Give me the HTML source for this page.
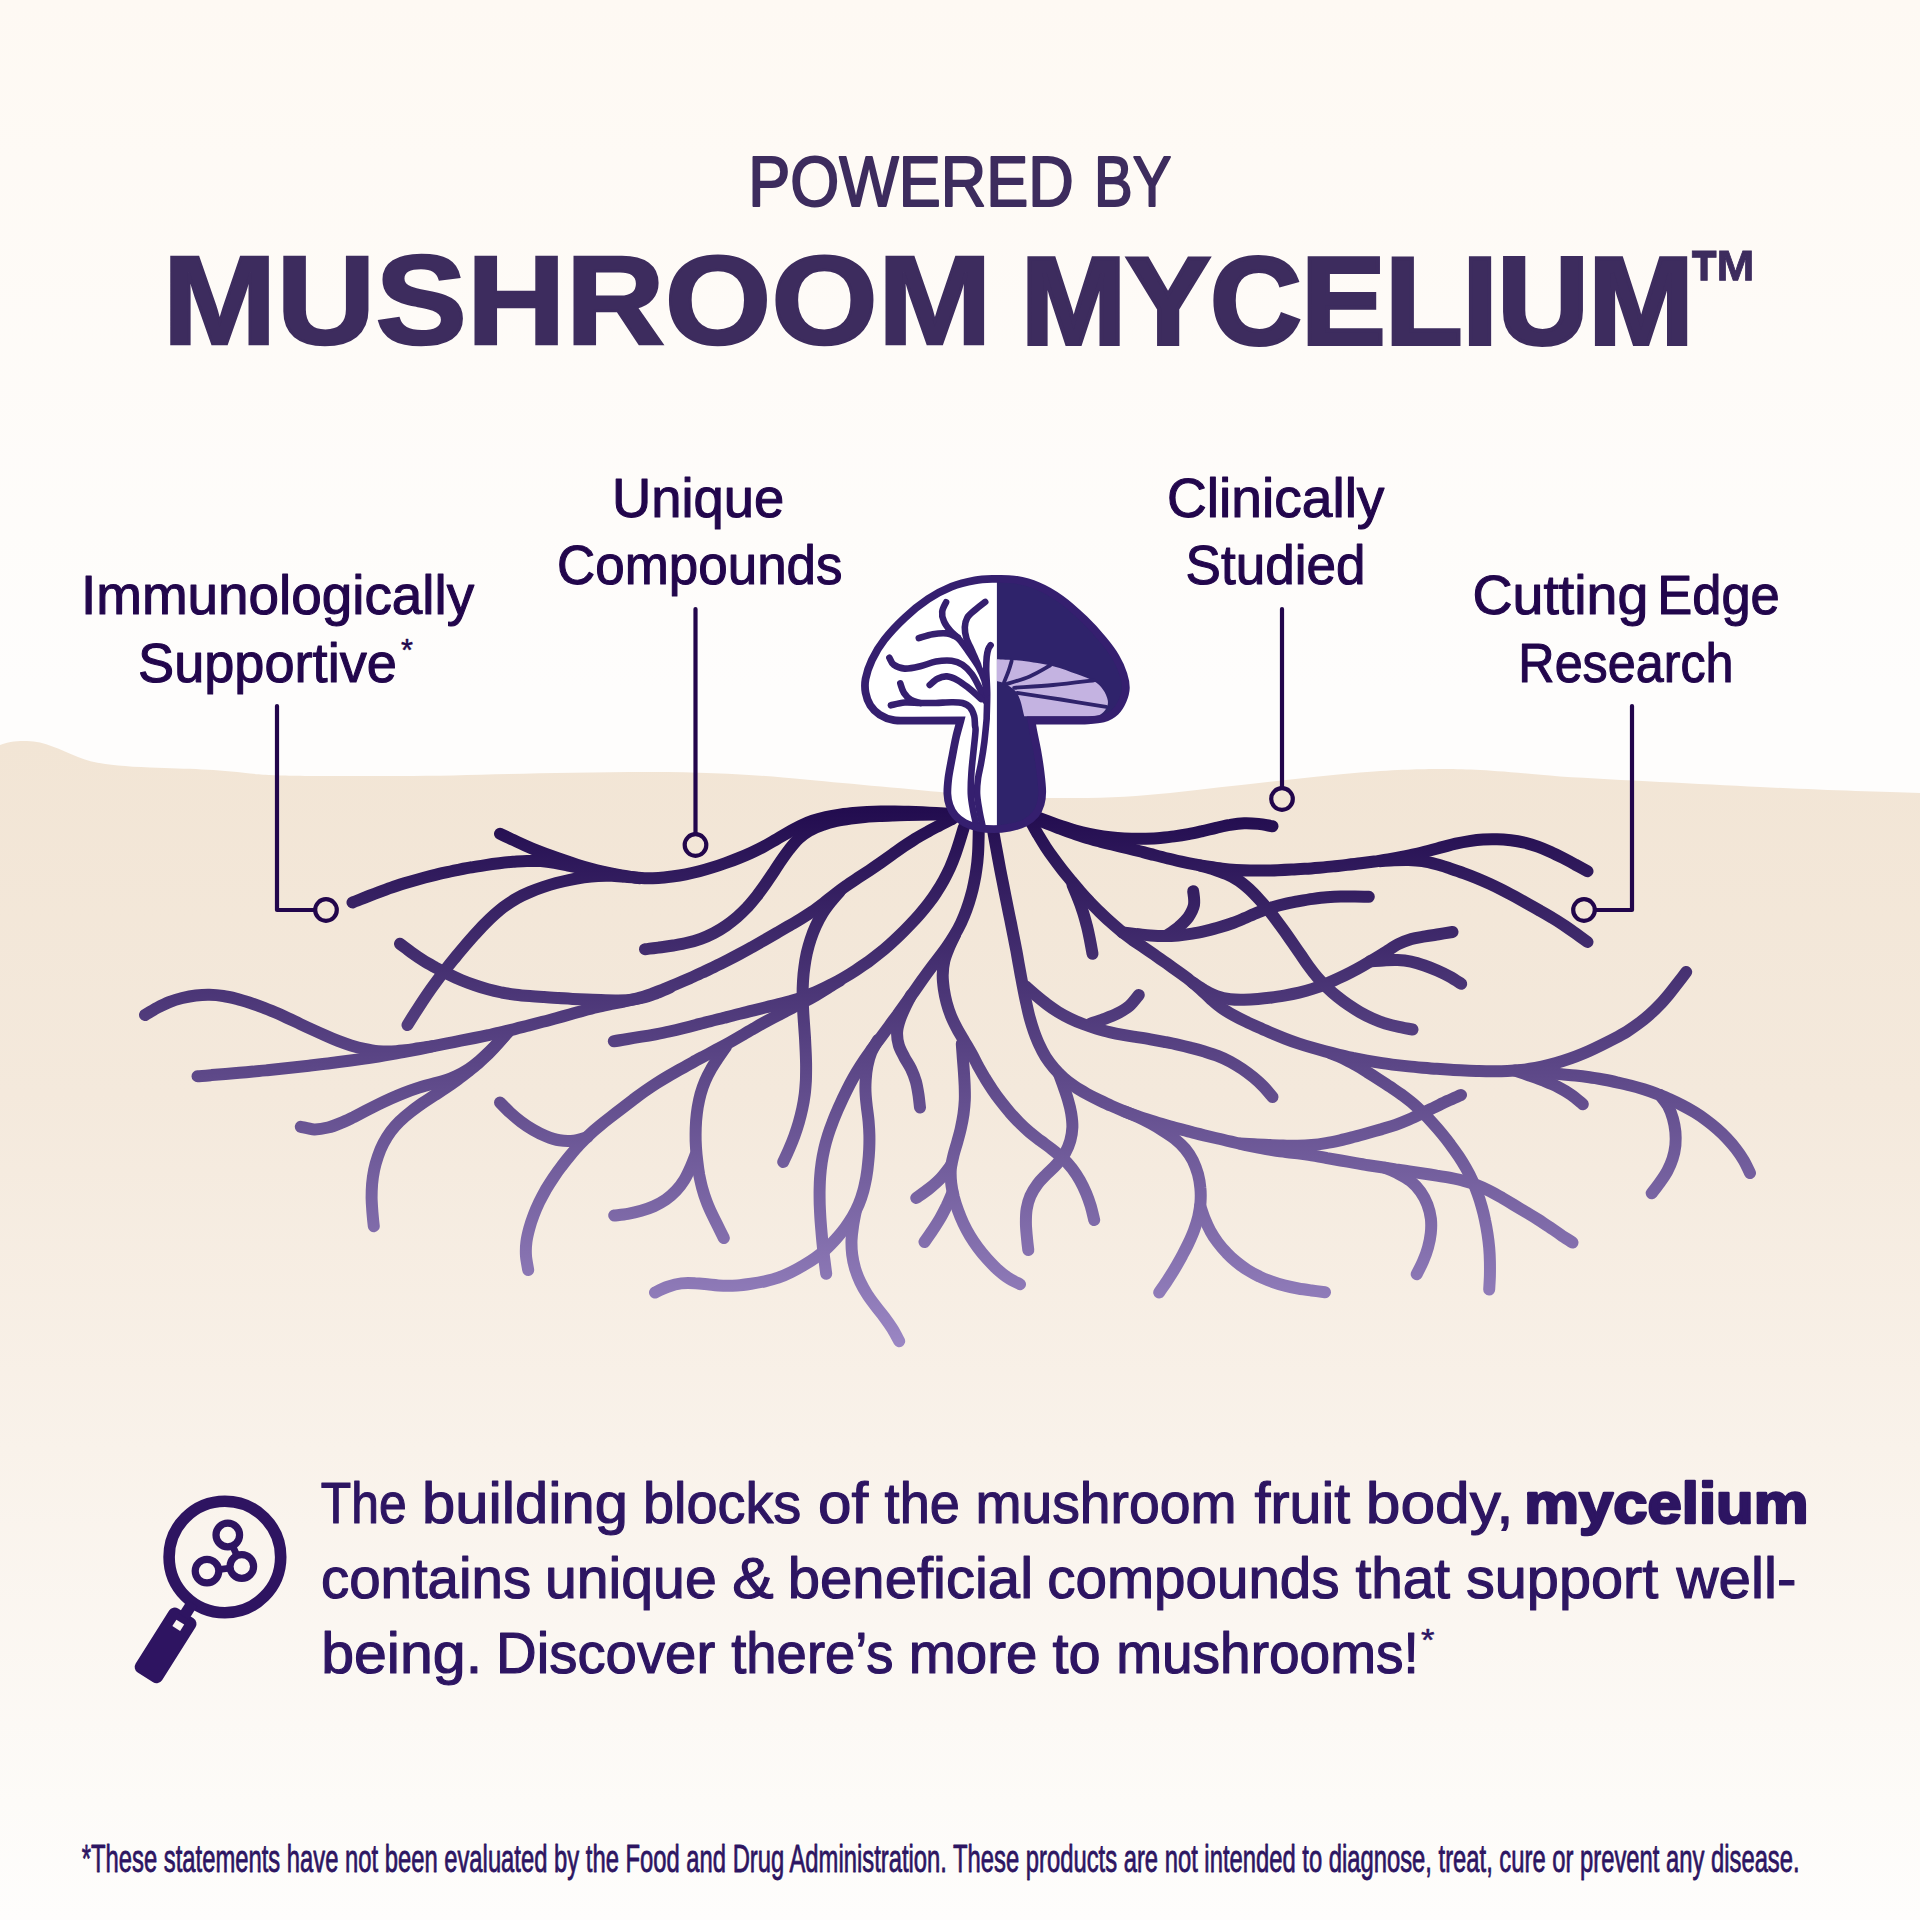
<!DOCTYPE html>
<html lang="en">
<head>
<meta charset="utf-8">
<title>Powered by Mushroom Mycelium</title>
<style>
html,body{margin:0;padding:0;width:1920px;height:1920px;overflow:hidden;background:#fefcf9;}
svg{display:block;position:absolute;left:0;top:0;}
text{font-family:"Liberation Sans",sans-serif;}
</style>
</head>
<body>
<svg width="1920" height="1920" viewBox="0 0 1920 1920">
<defs>
<linearGradient id="bg" x1="0" y1="0" x2="0" y2="1920" gradientUnits="userSpaceOnUse">
<stop offset="0" stop-color="#fef9f3"/>
<stop offset="0.36" stop-color="#fefdfc"/>
<stop offset="1" stop-color="#fefdfc"/>
</linearGradient>
<linearGradient id="soil" x1="0" y1="740" x2="0" y2="1920" gradientUnits="userSpaceOnUse">
<stop offset="0" stop-color="#f2e5d5"/>
<stop offset="0.3" stop-color="#f4e9dc"/>
<stop offset="0.6" stop-color="#f9f2ea"/>
<stop offset="0.9" stop-color="#fdfbf8"/>
<stop offset="1" stop-color="#fefdfc"/>
</linearGradient>
<linearGradient id="root" x1="0" y1="800" x2="0" y2="1345" gradientUnits="userSpaceOnUse">
<stop offset="0" stop-color="#200a4d"/>
<stop offset="1" stop-color="#9a86c3"/>
</linearGradient>
</defs>
<rect width="1920" height="1920" fill="url(#bg)"/>
<path id="soilshape" fill="url(#soil)" d="M0,745 C10,741 18,741 27,741 C45,741 60,750 78,757 C95,764 115,766 150,767.5 C190,769 215,769 250,773.5 C275,776 300,776 400,776 C470,776 540,772 650,772 C720,772 770,776 800,779 C840,783 900,788 950,793 C990,797 1030,798 1075,798 C1110,798 1140,796 1170,793 C1230,786 1300,778 1360,772.5 C1400,769.5 1420,769 1440,769 C1470,769 1490,770 1560,776.5 C1620,780 1700,784 1760,787 C1820,790 1880,792 1920,793 L1920,1920 L0,1920 Z"/>
<!--ROOTS-->
<g id="roots" fill="none" stroke="url(#root)" stroke-width="12" stroke-linecap="round" stroke-linejoin="round">
<path d="M500.0,833.8 C502.1,834.7 508.3,837.7 512.5,839.7 C516.7,841.6 520.9,843.6 525.1,845.4 C529.3,847.3 533.5,849.1 537.8,850.8 C542.1,852.5 546.4,854.1 550.8,855.7 C555.1,857.3 559.4,858.8 563.8,860.3 C568.1,861.8 572.5,863.3 576.9,864.7 C581.3,866.1 585.7,867.4 590.2,868.6 C594.6,869.8 599.1,870.9 603.6,871.9 C608.1,872.9 612.6,873.8 617.2,874.7 C621.7,875.5 626.2,876.3 630.8,876.9 C635.4,877.5 640.0,878.0 644.6,878.2 C649.2,878.4 653.8,878.2 658.4,878.0 C663.0,877.7 667.6,877.1 672.1,876.5 C676.7,875.9 681.3,875.2 685.8,874.3 C690.3,873.4 694.8,872.4 699.3,871.2 C703.8,870.1 708.2,868.8 712.6,867.4 C717.0,866.1 721.4,864.6 725.7,863.0 C730.0,861.5 734.3,859.9 738.6,858.1 C742.9,856.4 747.2,854.6 751.3,852.7 C755.5,850.8 759.7,848.7 763.7,846.6 C767.8,844.4 771.8,842.0 775.8,839.7 C779.7,837.4 783.7,835.0 787.7,832.7 C791.7,830.4 795.7,828.1 799.8,826.1 C804.0,824.1 808.2,822.3 812.6,820.8 C817.0,819.3 821.5,818.2 825.9,817.2 C830.4,816.2 835.0,815.4 839.6,814.7 C844.1,814.1 848.7,813.5 853.3,813.1 C857.9,812.6 862.5,812.3 867.1,812.1 C871.7,811.8 876.3,811.6 880.9,811.5 C885.5,811.4 890.1,811.5 894.7,811.5 C899.3,811.5 903.9,811.7 908.6,811.8 C913.2,812.0 917.8,812.1 922.4,812.3 C927.0,812.5 931.6,812.8 936.2,813.0 C940.8,813.2 947.7,813.6 950.0,813.8"/>
<path d="M352.5,902.5 C354.6,901.6 361.1,899.1 365.4,897.4 C369.7,895.7 374.0,893.9 378.3,892.3 C382.6,890.7 386.9,889.1 391.3,887.6 C395.7,886.1 400.1,884.7 404.5,883.3 C408.9,882.0 413.4,880.7 417.8,879.5 C422.3,878.2 426.7,877.0 431.2,875.9 C435.7,874.8 440.2,873.7 444.7,872.7 C449.2,871.6 453.7,870.7 458.2,869.8 C462.8,868.9 467.3,868.0 471.9,867.3 C476.4,866.5 481.0,865.8 485.6,865.1 C490.1,864.4 494.7,863.8 499.3,863.3 C503.9,862.7 508.5,862.2 513.1,861.8 C517.7,861.5 522.3,861.1 526.9,861.0 C531.5,860.9 536.2,860.8 540.8,861.1 C545.4,861.5 550.0,862.1 554.5,862.8 C559.1,863.5 563.6,864.6 568.1,865.5 C572.6,866.4 577.2,867.4 581.7,868.3 C586.2,869.2 590.8,870.0 595.3,870.9 C599.8,871.8 604.4,872.7 608.9,873.6 C613.4,874.5 620.2,875.8 622.5,876.2"/>
<path d="M407.5,1025.0 C408.7,1023.0 412.5,1017.0 415.0,1013.1 C417.5,1009.1 420.0,1005.2 422.6,1001.2 C425.2,997.3 427.8,993.5 430.5,989.6 C433.2,985.8 436.0,982.0 438.8,978.2 C441.6,974.5 444.5,970.8 447.4,967.1 C450.3,963.4 453.3,959.8 456.3,956.1 C459.2,952.5 462.3,948.9 465.3,945.4 C468.4,941.8 471.5,938.3 474.6,934.8 C477.8,931.3 480.9,927.9 484.2,924.5 C487.5,921.1 490.8,917.8 494.3,914.7 C497.8,911.6 501.4,908.5 505.2,905.8 C509.0,903.0 513.0,900.5 517.0,898.2 C521.1,895.9 525.4,893.9 529.7,892.1 C534.0,890.2 538.4,888.6 542.9,887.1 C547.3,885.6 551.8,884.2 556.3,883.0 C560.9,881.8 565.4,880.7 570.0,879.8 C574.6,878.8 579.2,878.0 583.9,877.3 C588.5,876.7 593.2,876.2 597.9,875.9 C602.6,875.7 607.3,875.7 612.0,875.8 C616.6,876.0 621.3,876.4 626.0,876.8 C630.7,877.2 637.7,878.0 640.0,878.2"/>
<path d="M400.0,943.8 C401.9,945.2 407.5,949.6 411.3,952.4 C415.2,955.2 419.1,957.9 423.1,960.4 C427.1,962.9 431.3,965.2 435.4,967.5 C439.6,969.7 443.8,971.9 448.1,974.0 C452.3,976.1 456.6,978.1 461.0,980.0 C465.3,981.8 469.8,983.5 474.3,985.0 C478.8,986.6 483.3,988.0 487.9,989.2 C492.4,990.4 497.1,991.5 501.7,992.5 C506.4,993.4 511.1,994.1 515.8,994.7 C520.5,995.3 525.2,995.7 529.9,996.1 C534.6,996.5 539.4,996.8 544.1,997.1 C548.8,997.5 553.6,997.8 558.3,998.1 C563.1,998.3 567.8,998.6 572.5,998.9 C577.3,999.1 582.0,999.4 586.7,999.6 C591.5,999.8 596.2,999.9 601.0,1000.0 C605.7,1000.2 610.4,1000.4 615.2,1000.4 C619.9,1000.4 624.7,1000.5 629.4,1000.0 C634.1,999.5 638.8,998.7 643.4,997.5 C648.0,996.4 652.4,994.6 656.9,993.0 C661.3,991.3 667.8,988.4 670.0,987.5"/>
<path d="M145.0,1015.0 C147.0,1013.8 152.8,1010.2 156.8,1008.0 C160.9,1005.9 165.0,1003.8 169.2,1002.1 C173.5,1000.4 177.9,999.1 182.3,998.0 C186.8,996.9 191.3,996.0 195.8,995.5 C200.4,995.0 205.0,994.7 209.5,994.8 C214.1,994.9 218.7,995.3 223.2,996.0 C227.7,996.6 232.2,997.7 236.7,998.8 C241.1,999.9 245.5,1001.3 249.8,1002.7 C254.2,1004.1 258.5,1005.7 262.8,1007.3 C267.1,1008.9 271.3,1010.7 275.5,1012.5 C279.7,1014.3 283.9,1016.3 288.0,1018.2 C292.2,1020.1 296.3,1022.2 300.4,1024.1 C304.6,1026.1 308.7,1028.0 312.9,1029.9 C317.0,1031.8 321.2,1033.7 325.4,1035.5 C329.6,1037.4 333.8,1039.2 338.1,1040.9 C342.3,1042.5 346.7,1044.1 351.0,1045.4 C355.4,1046.7 359.9,1047.9 364.4,1048.8 C368.8,1049.7 373.4,1050.6 377.9,1051.1 C382.4,1051.5 387.1,1051.6 391.6,1051.5 C396.2,1051.3 400.8,1050.7 405.3,1050.2 C409.8,1049.7 414.4,1048.9 418.9,1048.3 C423.4,1047.6 430.2,1046.6 432.5,1046.2"/>
<path d="M197.5,1076.2 C199.8,1076.1 206.8,1075.5 211.5,1075.1 C216.1,1074.7 220.8,1074.4 225.4,1074.0 C230.1,1073.6 234.7,1073.2 239.3,1072.8 C244.0,1072.4 248.6,1072.0 253.3,1071.6 C257.9,1071.1 262.6,1070.7 267.2,1070.3 C271.9,1069.8 276.5,1069.3 281.1,1068.8 C285.8,1068.3 290.4,1067.8 295.1,1067.3 C299.7,1066.8 304.3,1066.2 309.0,1065.7 C313.6,1065.1 318.2,1064.6 322.9,1064.0 C327.5,1063.5 332.1,1062.9 336.8,1062.3 C341.4,1061.7 346.0,1061.1 350.6,1060.5 C355.3,1059.9 359.9,1059.2 364.5,1058.6 C369.1,1057.9 373.7,1057.2 378.3,1056.5 C382.9,1055.8 387.6,1055.0 392.1,1054.2 C396.7,1053.4 401.3,1052.6 405.9,1051.7 C410.5,1050.8 415.1,1049.9 419.6,1049.0 C424.2,1048.0 428.8,1047.1 433.4,1046.1 C437.9,1045.2 442.5,1044.3 447.1,1043.4 C451.7,1042.5 456.2,1041.6 460.8,1040.7 C465.4,1039.8 470.0,1038.9 474.5,1038.0 C479.1,1037.1 483.7,1036.1 488.3,1035.2 C492.8,1034.2 497.4,1033.2 501.9,1032.1 C506.5,1031.1 511.0,1029.9 515.5,1028.8 C520.1,1027.7 524.6,1026.5 529.1,1025.4 C533.6,1024.2 538.1,1023.0 542.6,1021.8 C547.1,1020.7 551.6,1019.4 556.1,1018.2 C560.6,1017.0 565.1,1015.7 569.6,1014.5 C574.1,1013.2 578.6,1011.9 583.1,1010.7 C587.6,1009.5 592.1,1008.3 596.7,1007.2 C601.2,1006.1 605.8,1005.1 610.3,1004.1 C614.9,1003.2 619.5,1002.4 624.1,1001.5 C628.6,1000.5 633.2,999.6 637.7,998.4 C642.2,997.2 646.7,995.7 651.1,994.2 C655.5,992.6 659.8,990.8 664.1,989.1 C668.4,987.4 672.7,985.5 677.0,983.7 C681.3,981.9 685.6,980.1 689.9,978.2 C694.1,976.3 698.4,974.4 702.6,972.4 C706.8,970.4 711.1,968.4 715.2,966.3 C719.4,964.3 723.6,962.2 727.8,960.1 C731.9,958.0 736.1,955.8 740.2,953.6 C744.3,951.4 748.4,949.1 752.4,946.9 C756.5,944.6 760.6,942.3 764.6,940.0 C768.7,937.6 772.7,935.3 776.7,933.0 C780.8,930.6 784.8,928.3 788.8,925.9 C792.9,923.6 796.9,921.2 800.9,918.8 C804.9,916.4 808.8,913.9 812.7,911.3 C816.5,908.6 820.2,905.8 823.9,903.0 C827.6,900.1 831.2,897.0 834.9,894.2 C838.5,891.4 842.3,888.6 846.1,885.9 C849.9,883.2 853.8,880.7 857.7,878.1 C861.6,875.5 865.5,873.0 869.4,870.4 C873.3,867.8 877.1,865.2 881.0,862.5 C884.8,859.8 888.6,857.1 892.4,854.4 C896.2,851.7 900.0,848.9 903.8,846.3 C907.7,843.7 911.6,841.1 915.5,838.6 C919.5,836.2 923.6,833.9 927.7,831.7 C931.7,829.4 935.9,827.3 940.0,825.1 C944.2,823.0 950.4,819.8 952.5,818.8"/>
<path d="M645.0,949.2 C647.4,949.0 654.4,948.1 659.1,947.5 C663.8,946.8 668.5,946.3 673.2,945.5 C677.9,944.7 682.6,944.0 687.2,942.8 C691.8,941.7 696.4,940.4 700.8,938.8 C705.2,937.2 709.6,935.3 713.8,933.1 C718.0,930.9 722.1,928.4 726.0,925.7 C729.9,923.0 733.6,920.1 737.2,917.0 C740.7,913.9 744.1,910.5 747.4,907.1 C750.6,903.6 753.6,899.9 756.6,896.2 C759.5,892.5 762.3,888.6 765.0,884.8 C767.7,880.9 770.3,876.9 773.0,873.0 C775.6,869.0 778.1,865.0 780.8,861.1 C783.5,857.2 786.2,853.3 789.1,849.6 C792.0,845.9 795.0,842.0 798.4,838.8 C801.9,835.7 805.8,832.8 809.8,830.4 C813.9,828.1 818.4,826.3 822.9,824.8 C827.3,823.2 832.0,822.0 836.6,821.0 C841.2,819.9 845.9,819.2 850.6,818.5 C855.3,817.9 860.0,817.4 864.7,817.0 C869.4,816.6 874.2,816.4 878.9,816.1 C883.6,815.8 888.4,815.6 893.1,815.4 C897.9,815.2 902.6,815.1 907.3,815.0 C912.1,814.9 916.8,814.8 921.6,814.8 C926.3,814.7 931.0,814.7 935.8,814.6 C940.5,814.6 947.6,814.5 950.0,814.5"/>
<path d="M613.8,1041.2 C616.1,1040.9 623.0,1039.8 627.7,1039.0 C632.3,1038.3 637.0,1037.5 641.6,1036.7 C646.2,1036.0 650.9,1035.2 655.5,1034.3 C660.1,1033.4 664.7,1032.5 669.3,1031.5 C673.9,1030.5 678.5,1029.4 683.1,1028.2 C687.6,1027.1 692.2,1025.9 696.7,1024.7 C701.3,1023.6 705.8,1022.4 710.4,1021.2 C714.9,1020.0 719.5,1018.9 724.1,1017.7 C728.6,1016.6 733.2,1015.5 737.8,1014.3 C742.3,1013.2 746.9,1012.1 751.4,1010.9 C756.0,1009.8 760.6,1008.6 765.1,1007.5 C769.7,1006.4 774.3,1005.3 778.8,1004.1 C783.4,1003.0 788.0,1001.9 792.5,1000.5 C797.0,999.2 801.4,997.7 805.8,996.0 C810.2,994.4 814.6,992.5 818.9,990.6 C823.1,988.7 827.4,986.6 831.5,984.4 C835.7,982.3 839.8,980.0 843.9,977.6 C848.0,975.2 852.0,972.8 855.9,970.2 C859.8,967.6 863.7,965.0 867.6,962.3 C871.4,959.5 875.1,956.7 878.8,953.7 C882.5,950.8 886.1,947.8 889.6,944.6 C893.1,941.5 896.5,938.3 899.9,935.0 C903.3,931.8 906.6,928.4 909.8,925.0 C913.1,921.6 916.3,918.2 919.4,914.6 C922.5,911.1 925.5,907.5 928.4,903.7 C931.2,900.0 934.0,896.2 936.5,892.2 C939.1,888.3 941.5,884.3 943.8,880.1 C946.0,876.0 948.1,871.8 950.1,867.5 C952.0,863.2 953.7,858.8 955.3,854.4 C956.9,850.0 958.3,845.5 959.7,841.0 C961.1,836.5 963.1,829.8 963.8,827.5"/>
<path d="M840.0,891.2 C838.5,893.0 833.7,898.3 830.7,902.0 C827.8,905.7 824.9,909.5 822.4,913.5 C819.9,917.5 817.7,921.8 815.7,926.1 C813.8,930.3 812.1,934.8 810.6,939.3 C809.1,943.8 807.9,948.4 806.8,953.0 C805.8,957.6 805.0,962.3 804.4,967.0 C803.7,971.7 803.3,976.4 803.0,981.1 C802.7,985.8 802.6,990.6 802.6,995.3 C802.6,1000.0 802.8,1004.8 803.1,1009.5 C803.3,1014.2 803.7,1019.0 804.0,1023.7 C804.3,1028.4 804.7,1033.1 805.0,1037.9 C805.2,1042.6 805.5,1047.3 805.7,1052.0 C805.9,1056.8 806.1,1061.5 806.1,1066.2 C806.1,1071.0 806.1,1075.7 805.9,1080.5 C805.6,1085.2 805.3,1089.9 804.7,1094.6 C804.1,1099.3 803.3,1104.0 802.3,1108.6 C801.3,1113.2 800.2,1117.8 798.8,1122.4 C797.5,1126.9 796.0,1131.4 794.4,1135.9 C792.8,1140.3 791.0,1144.7 789.1,1149.1 C787.3,1153.4 784.2,1159.8 783.2,1162.0"/>
<path d="M840.0,980.5 C838.0,981.7 832.1,985.5 828.1,987.9 C824.1,990.4 820.1,992.8 816.0,995.2 C812.0,997.5 807.9,999.8 803.7,1002.0 C799.6,1004.2 795.4,1006.3 791.3,1008.5 C787.1,1010.6 782.9,1012.7 778.8,1014.9 C774.6,1017.0 770.4,1019.2 766.3,1021.4 C762.2,1023.6 758.1,1025.9 754.1,1028.3 C750.0,1030.6 746.0,1033.0 741.9,1035.4 C737.9,1037.7 733.8,1040.1 729.8,1042.4 C725.7,1044.7 721.6,1046.9 717.4,1049.1 C713.3,1051.4 709.1,1053.5 705.0,1055.7 C700.9,1057.9 696.7,1060.1 692.6,1062.4 C688.5,1064.6 684.4,1066.9 680.3,1069.2 C676.3,1071.5 672.2,1073.8 668.1,1076.2 C664.1,1078.5 660.1,1081.0 656.2,1083.5 C652.2,1086.1 648.4,1088.7 644.5,1091.4 C640.7,1094.1 637.0,1096.9 633.2,1099.7 C629.5,1102.6 625.8,1105.4 622.1,1108.3 C618.4,1111.1 614.6,1114.0 610.9,1116.9 C607.2,1119.7 603.5,1122.6 599.9,1125.6 C596.3,1128.5 592.7,1131.6 589.3,1134.8 C585.9,1138.0 582.6,1141.3 579.4,1144.8 C576.2,1148.2 573.2,1151.8 570.2,1155.4 C567.2,1159.0 564.3,1162.6 561.5,1166.4 C558.6,1170.1 555.9,1173.9 553.3,1177.8 C550.7,1181.7 548.2,1185.7 545.8,1189.7 C543.5,1193.8 541.3,1197.9 539.2,1202.1 C537.2,1206.3 535.3,1210.6 533.7,1215.0 C532.0,1219.4 530.5,1223.9 529.3,1228.4 C528.1,1232.9 526.9,1237.5 526.4,1242.1 C525.8,1246.7 525.7,1251.5 526.0,1256.1 C526.4,1260.8 527.9,1267.7 528.2,1270.0"/>
<path d="M500.0,1102.5 C501.7,1104.2 506.6,1109.4 510.1,1112.6 C513.6,1115.8 517.3,1119.0 521.1,1121.8 C524.9,1124.7 528.9,1127.3 533.0,1129.7 C537.1,1132.1 541.4,1134.4 545.8,1136.1 C550.2,1137.9 554.8,1139.6 559.4,1140.3 C564.1,1141.1 569.0,1141.2 573.7,1140.7 C578.4,1140.1 585.2,1137.6 587.5,1137.0"/>
<path d="M726.2,1046.2 C725.0,1048.1 721.0,1053.6 718.5,1057.4 C716.0,1061.2 713.4,1065.0 711.2,1068.9 C709.0,1072.8 706.8,1076.9 705.1,1081.0 C703.3,1085.2 701.8,1089.5 700.6,1093.9 C699.4,1098.2 698.5,1102.7 697.7,1107.2 C697.0,1111.6 696.5,1116.2 696.1,1120.7 C695.8,1125.2 695.6,1129.7 695.6,1134.3 C695.5,1138.8 695.7,1143.3 696.0,1147.9 C696.3,1152.4 696.7,1156.9 697.3,1161.4 C697.8,1165.9 698.4,1170.4 699.2,1174.9 C700.1,1179.3 701.0,1183.8 702.2,1188.1 C703.4,1192.5 704.8,1196.9 706.4,1201.1 C707.9,1205.3 709.8,1209.5 711.7,1213.6 C713.6,1217.7 715.8,1221.7 717.8,1225.8 C719.8,1229.9 722.8,1236.0 723.8,1238.0"/>
<path d="M695.5,1155.0 C694.7,1157.1 692.3,1163.5 690.4,1167.7 C688.5,1171.8 686.7,1176.0 684.3,1179.9 C682.0,1183.7 679.2,1187.4 676.1,1190.7 C673.0,1194.0 669.5,1197.0 665.8,1199.6 C662.1,1202.1 658.0,1204.3 653.9,1206.2 C649.8,1208.0 645.4,1209.5 641.1,1210.8 C636.7,1212.1 632.3,1213.1 627.8,1213.9 C623.3,1214.7 616.5,1215.2 614.2,1215.5"/>
<path d="M508.8,1031.2 C507.2,1032.9 502.5,1038.1 499.3,1041.4 C496.2,1044.8 493.0,1048.2 489.7,1051.4 C486.4,1054.6 483.0,1057.8 479.5,1060.8 C476.0,1063.8 472.3,1066.7 468.5,1069.2 C464.6,1071.7 460.5,1074.0 456.4,1075.9 C452.2,1077.9 447.8,1079.4 443.4,1080.9 C439.0,1082.3 434.5,1083.3 430.0,1084.5 C425.6,1085.7 421.1,1086.9 416.7,1088.4 C412.3,1089.8 408.0,1091.4 403.7,1093.1 C399.4,1094.8 395.1,1096.6 390.9,1098.5 C386.7,1100.4 382.5,1102.4 378.4,1104.4 C374.2,1106.5 370.1,1108.6 366.0,1110.7 C361.9,1112.8 357.8,1115.0 353.7,1117.1 C349.5,1119.1 345.4,1121.2 341.1,1122.9 C336.8,1124.7 332.5,1126.5 328.0,1127.5 C323.6,1128.6 318.9,1129.5 314.3,1129.4 C309.8,1129.2 303.0,1127.2 300.8,1126.8"/>
<path d="M508.8,1031.2 C507.2,1033.0 502.7,1038.4 499.5,1041.9 C496.4,1045.4 493.2,1048.9 489.9,1052.3 C486.6,1055.6 483.1,1058.8 479.6,1062.0 C476.1,1065.1 472.4,1068.1 468.8,1071.1 C465.1,1074.0 461.4,1076.9 457.6,1079.7 C453.8,1082.5 449.9,1085.2 446.0,1087.8 C442.1,1090.4 438.1,1092.9 434.1,1095.5 C430.2,1098.1 426.2,1100.6 422.3,1103.3 C418.5,1106.0 414.7,1108.7 411.0,1111.7 C407.3,1114.6 403.6,1117.6 400.2,1120.8 C396.9,1124.1 393.6,1127.6 390.8,1131.3 C388.0,1135.1 385.5,1139.2 383.4,1143.3 C381.2,1147.5 379.4,1151.9 377.9,1156.4 C376.4,1160.8 375.1,1165.4 374.1,1170.0 C373.2,1174.6 372.5,1179.3 372.1,1183.9 C371.7,1188.6 371.6,1193.4 371.6,1198.1 C371.7,1202.8 372.1,1207.5 372.4,1212.2 C372.8,1216.9 373.5,1223.9 373.8,1226.2"/>
<path d="M978.8,827.5 C978.7,829.8 978.7,836.8 978.5,841.5 C978.4,846.1 978.3,850.8 977.9,855.4 C977.6,860.1 977.1,864.7 976.4,869.3 C975.8,874.0 975.0,878.6 974.0,883.1 C973.1,887.7 972.0,892.2 970.7,896.7 C969.5,901.2 968.0,905.6 966.4,910.0 C964.8,914.4 963.0,918.7 961.1,922.9 C959.1,927.1 956.9,931.2 954.5,935.2 C952.1,939.2 949.5,943.1 946.8,946.9 C944.1,950.7 941.3,954.4 938.5,958.1 C935.7,961.9 932.8,965.5 930.0,969.3 C927.2,973.0 924.5,976.8 921.8,980.6 C919.1,984.4 916.5,988.2 913.8,992.0 C911.1,995.8 908.4,999.7 905.7,1003.4 C903.0,1007.2 900.2,1011.0 897.5,1014.8 C894.7,1018.5 892.0,1022.3 889.2,1026.0 C886.4,1029.8 883.6,1033.5 880.9,1037.2 C878.1,1041.0 875.2,1044.7 872.5,1048.4 C869.8,1052.2 867.0,1056.0 864.4,1059.8 C861.8,1063.7 859.3,1067.6 856.9,1071.6 C854.5,1075.6 852.2,1079.7 850.0,1083.8 C847.9,1087.9 845.8,1092.1 843.8,1096.3 C841.8,1100.5 839.9,1104.8 838.0,1109.0 C836.2,1113.3 834.3,1117.6 832.7,1122.0 C831.0,1126.3 829.4,1130.7 828.0,1135.1 C826.6,1139.6 825.3,1144.1 824.3,1148.6 C823.3,1153.1 822.4,1157.7 821.7,1162.3 C821.0,1167.0 820.5,1171.6 820.2,1176.2 C819.8,1180.9 819.7,1185.5 819.6,1190.2 C819.5,1194.9 819.6,1199.5 819.7,1204.2 C819.9,1208.8 820.1,1213.5 820.4,1218.1 C820.7,1222.8 821.1,1227.4 821.5,1232.1 C821.9,1236.7 822.3,1241.4 822.8,1246.0 C823.3,1250.6 823.8,1255.3 824.4,1259.9 C825.0,1264.5 825.9,1271.4 826.2,1273.8"/>
<path d="M878.0,1040.0 C876.9,1042.0 873.1,1048.0 871.3,1052.3 C869.5,1056.6 868.4,1061.1 867.4,1065.7 C866.5,1070.2 866.0,1074.9 865.7,1079.6 C865.4,1084.2 865.3,1088.9 865.6,1093.6 C865.8,1098.2 866.4,1102.9 866.9,1107.5 C867.5,1112.1 868.2,1116.7 868.6,1121.4 C869.0,1126.0 869.3,1130.7 869.4,1135.4 C869.5,1140.0 869.4,1144.7 869.2,1149.4 C869.0,1154.0 868.6,1158.7 868.1,1163.3 C867.7,1168.0 867.1,1172.6 866.3,1177.2 C865.4,1181.8 864.5,1186.4 863.3,1190.9 C862.1,1195.3 860.6,1199.8 858.8,1204.1 C857.0,1208.4 854.9,1212.6 852.6,1216.6 C850.2,1220.6 847.6,1224.5 844.8,1228.3 C842.0,1232.0 839.0,1235.6 835.9,1239.1 C832.8,1242.5 829.6,1246.0 826.1,1249.1 C822.7,1252.3 819.1,1255.2 815.3,1257.9 C811.5,1260.7 807.5,1263.1 803.5,1265.4 C799.5,1267.8 795.4,1270.1 791.2,1272.1 C787.0,1274.2 782.7,1276.1 778.3,1277.6 C773.9,1279.1 769.4,1280.2 764.8,1281.3 C760.3,1282.3 755.7,1283.1 751.1,1283.8 C746.5,1284.5 741.8,1285.2 737.2,1285.5 C732.5,1285.8 727.8,1285.9 723.2,1285.7 C718.5,1285.6 713.9,1285.0 709.2,1284.5 C704.6,1284.1 700.0,1283.4 695.3,1283.3 C690.7,1283.1 685.9,1282.9 681.3,1283.4 C676.7,1284.0 672.2,1285.3 667.8,1286.8 C663.4,1288.3 657.1,1291.5 655.0,1292.5"/>
<path d="M855.5,1212.5 C855.1,1214.8 853.6,1221.8 853.0,1226.5 C852.3,1231.2 851.7,1235.9 851.5,1240.6 C851.4,1245.4 851.6,1250.1 852.2,1254.8 C852.8,1259.5 853.8,1264.2 855.1,1268.7 C856.5,1273.2 858.2,1277.7 860.3,1282.0 C862.3,1286.3 864.7,1290.4 867.2,1294.4 C869.7,1298.4 872.6,1302.1 875.5,1305.9 C878.3,1309.7 881.5,1313.3 884.3,1317.1 C887.1,1320.9 889.9,1324.8 892.4,1328.8 C894.9,1332.8 898.1,1339.2 899.2,1341.2"/>
<path d="M911.2,995.0 C910.3,997.0 907.2,1002.9 905.3,1006.9 C903.4,1010.9 901.5,1015.0 900.1,1019.2 C898.7,1023.4 897.3,1027.8 897.1,1032.1 C896.9,1036.4 897.5,1041.0 898.8,1045.2 C900.0,1049.4 902.4,1053.3 904.4,1057.3 C906.5,1061.2 909.1,1064.8 911.0,1068.8 C912.9,1072.8 914.5,1077.0 915.8,1081.2 C917.0,1085.5 917.7,1089.9 918.4,1094.3 C919.1,1098.7 919.7,1105.3 920.0,1107.5"/>
<path d="M955.0,935.0 C954.0,937.1 950.8,943.4 949.0,947.7 C947.2,952.1 945.3,956.5 944.3,961.0 C943.2,965.5 942.8,970.3 942.7,975.0 C942.6,979.6 943.2,984.4 943.8,989.0 C944.5,993.6 945.4,998.3 946.6,1002.8 C947.8,1007.3 949.3,1011.8 951.1,1016.2 C952.8,1020.5 955.0,1024.7 957.2,1028.9 C959.4,1033.0 961.9,1037.0 964.3,1041.0 C966.7,1045.1 969.1,1049.1 971.4,1053.2 C973.7,1057.3 975.7,1061.5 977.9,1065.7 C980.2,1069.8 982.4,1073.9 984.9,1077.9 C987.3,1082.0 989.9,1085.9 992.5,1089.8 C995.1,1093.7 997.9,1097.5 1000.7,1101.2 C1003.6,1104.9 1006.5,1108.6 1009.6,1112.2 C1012.7,1115.7 1015.8,1119.2 1019.2,1122.5 C1022.5,1125.8 1025.9,1129.0 1029.5,1132.1 C1033.1,1135.1 1036.9,1137.9 1040.6,1140.8 C1044.3,1143.6 1048.2,1146.3 1051.9,1149.2 C1055.6,1152.1 1059.3,1155.0 1062.7,1158.2 C1066.1,1161.5 1069.3,1164.9 1072.2,1168.6 C1075.0,1172.3 1077.6,1176.3 1079.9,1180.4 C1082.2,1184.5 1084.2,1188.7 1086.1,1193.1 C1087.9,1197.4 1089.4,1201.8 1090.8,1206.3 C1092.1,1210.8 1093.6,1217.7 1094.2,1220.0"/>
<path d="M961.8,1043.8 C961.9,1046.1 962.5,1053.1 962.8,1057.8 C963.2,1062.5 963.6,1067.2 963.9,1071.9 C964.2,1076.6 964.5,1081.3 964.7,1086.0 C964.8,1090.7 965.0,1095.4 964.8,1100.1 C964.6,1104.8 964.1,1109.5 963.5,1114.1 C962.8,1118.8 961.9,1123.4 960.9,1128.0 C959.9,1132.6 958.6,1137.1 957.4,1141.6 C956.1,1146.2 954.6,1150.6 953.5,1155.2 C952.4,1159.8 951.2,1164.4 950.8,1169.0 C950.4,1173.7 950.7,1178.4 951.2,1183.1 C951.7,1187.8 952.7,1192.4 953.8,1197.0 C955.0,1201.5 956.4,1206.0 958.0,1210.4 C959.6,1214.8 961.4,1219.2 963.4,1223.5 C965.4,1227.7 967.6,1231.9 970.0,1235.9 C972.4,1239.9 975.1,1243.8 977.9,1247.6 C980.7,1251.4 983.7,1255.0 986.8,1258.5 C990.0,1262.0 993.2,1265.5 996.6,1268.7 C1000.1,1271.8 1003.7,1274.9 1007.6,1277.5 C1011.5,1280.1 1017.9,1283.1 1020.0,1284.2"/>
<path d="M951.2,1165.0 C949.6,1167.1 944.9,1173.7 941.2,1177.7 C937.6,1181.6 933.5,1185.1 929.3,1188.5 C925.1,1191.9 918.4,1196.4 916.2,1198.0"/>
<path d="M952.5,1192.5 C951.5,1194.7 948.8,1201.3 946.8,1205.6 C944.7,1209.8 942.6,1214.1 940.2,1218.2 C937.8,1222.3 935.2,1226.3 932.6,1230.3 C930.0,1234.2 925.9,1240.0 924.5,1242.0"/>
<path d="M992.5,827.5 C992.9,829.8 994.2,836.6 995.0,841.2 C995.8,845.7 996.7,850.3 997.5,854.8 C998.3,859.4 999.2,864.0 1000.0,868.5 C1000.9,873.1 1001.8,877.6 1002.7,882.2 C1003.6,886.7 1004.5,891.3 1005.4,895.8 C1006.3,900.3 1007.2,904.9 1008.1,909.4 C1009.0,914.0 1010.0,918.5 1010.9,923.0 C1011.8,927.6 1012.7,932.1 1013.6,936.7 C1014.5,941.2 1015.4,945.8 1016.3,950.3 C1017.1,954.9 1017.9,959.4 1018.7,964.0 C1019.6,968.6 1020.3,973.1 1021.2,977.7 C1022.0,982.2 1022.9,986.8 1023.8,991.3 C1024.7,995.9 1025.6,1000.4 1026.7,1004.9 C1027.7,1009.5 1028.6,1014.0 1029.9,1018.5 C1031.1,1022.9 1032.5,1027.4 1034.0,1031.7 C1035.6,1036.1 1037.2,1040.4 1039.2,1044.6 C1041.1,1048.8 1043.2,1053.0 1045.7,1056.9 C1048.2,1060.8 1051.0,1064.5 1054.0,1068.1 C1057.0,1071.6 1060.3,1074.9 1063.7,1077.9 C1067.2,1081.0 1070.9,1083.8 1074.7,1086.5 C1078.5,1089.1 1082.5,1091.4 1086.6,1093.7 C1090.6,1095.9 1094.8,1098.0 1098.9,1100.0 C1103.1,1102.0 1107.3,1104.0 1111.5,1105.9 C1115.8,1107.8 1120.0,1109.6 1124.3,1111.3 C1128.6,1113.0 1133.0,1114.6 1137.4,1116.1 C1141.7,1117.7 1146.1,1119.1 1150.6,1120.5 C1155.0,1121.9 1159.4,1123.3 1163.8,1124.6 C1168.3,1125.9 1172.7,1127.2 1177.2,1128.4 C1181.7,1129.6 1186.2,1130.8 1190.7,1131.9 C1195.1,1133.1 1199.6,1134.2 1204.1,1135.3 C1208.7,1136.4 1213.2,1137.4 1217.7,1138.5 C1222.2,1139.5 1226.7,1140.6 1231.2,1141.7 C1235.7,1142.7 1240.2,1143.8 1244.7,1144.8 C1249.3,1145.8 1253.8,1146.7 1258.4,1147.6 C1262.9,1148.5 1267.5,1149.4 1272.0,1150.1 C1276.6,1150.8 1281.2,1151.5 1285.8,1152.0 C1290.4,1152.6 1295.0,1153.0 1299.6,1153.5 C1304.2,1154.1 1308.8,1154.9 1313.4,1155.6 C1317.9,1156.4 1322.5,1157.2 1327.0,1158.1 C1331.6,1158.9 1336.2,1159.7 1340.7,1160.5 C1345.3,1161.3 1349.8,1162.1 1354.4,1162.9 C1359.0,1163.7 1363.6,1164.5 1368.1,1165.2 C1372.7,1165.9 1377.3,1166.6 1381.9,1167.3 C1386.4,1168.0 1391.0,1168.7 1395.6,1169.4 C1400.2,1170.0 1404.8,1170.7 1409.4,1171.4 C1413.9,1172.1 1418.5,1172.8 1423.1,1173.5 C1427.7,1174.1 1432.3,1174.8 1436.8,1175.6 C1441.4,1176.3 1446.0,1177.0 1450.6,1177.9 C1455.1,1178.8 1459.6,1179.7 1464.1,1181.0 C1468.6,1182.2 1473.0,1183.7 1477.3,1185.4 C1481.6,1187.0 1485.8,1189.0 1489.9,1191.1 C1494.1,1193.2 1498.1,1195.5 1502.1,1197.8 C1506.1,1200.2 1510.0,1202.6 1514.0,1205.0 C1518.0,1207.4 1521.9,1209.8 1525.9,1212.2 C1529.9,1214.6 1533.9,1216.9 1537.8,1219.4 C1541.7,1221.9 1545.5,1224.5 1549.4,1227.0 C1553.2,1229.6 1557.0,1232.3 1560.9,1234.9 C1564.7,1237.5 1570.6,1241.2 1572.5,1242.5"/>
<path d="M1240.0,1143.5 C1242.4,1143.6 1249.6,1144.0 1254.4,1144.2 C1259.2,1144.5 1263.9,1144.7 1268.7,1144.9 C1273.5,1145.2 1278.3,1145.4 1283.1,1145.6 C1287.9,1145.7 1292.7,1145.9 1297.5,1145.8 C1302.3,1145.7 1307.1,1145.5 1311.8,1145.0 C1316.6,1144.6 1321.4,1143.9 1326.1,1143.1 C1330.8,1142.3 1335.5,1141.3 1340.2,1140.3 C1344.9,1139.2 1349.5,1138.0 1354.2,1136.8 C1358.8,1135.6 1363.4,1134.3 1368.0,1133.0 C1372.6,1131.7 1377.3,1130.4 1381.9,1129.1 C1386.4,1127.7 1391.1,1126.4 1395.6,1124.8 C1400.1,1123.2 1404.6,1121.4 1409.0,1119.5 C1413.4,1117.6 1417.7,1115.5 1422.0,1113.4 C1426.3,1111.4 1430.6,1109.2 1434.9,1107.1 C1439.2,1105.0 1443.5,1102.8 1447.9,1100.8 C1452.2,1098.8 1458.8,1096.0 1461.0,1095.0"/>
<path d="M1059.0,1074.0 C1059.8,1076.2 1062.2,1082.6 1063.7,1086.9 C1065.2,1091.3 1066.8,1095.6 1068.0,1100.0 C1069.3,1104.4 1070.5,1108.8 1071.2,1113.4 C1071.9,1117.9 1072.5,1122.5 1072.4,1127.0 C1072.2,1131.6 1071.5,1136.2 1070.3,1140.6 C1069.1,1145.0 1067.2,1149.3 1065.0,1153.3 C1062.7,1157.2 1059.7,1160.8 1056.7,1164.2 C1053.7,1167.7 1050.1,1170.6 1046.9,1173.9 C1043.8,1177.2 1040.3,1180.3 1037.6,1184.0 C1034.9,1187.6 1032.4,1191.6 1030.5,1195.7 C1028.7,1199.9 1027.5,1204.4 1026.7,1208.9 C1025.9,1213.4 1025.9,1218.0 1025.9,1222.6 C1025.9,1227.2 1026.4,1231.8 1026.8,1236.3 C1027.2,1240.9 1028.0,1247.7 1028.3,1250.0"/>
<path d="M1025.5,986.2 C1027.2,987.8 1032.4,992.4 1035.9,995.4 C1039.5,998.4 1043.0,1001.3 1046.7,1004.1 C1050.4,1006.9 1054.2,1009.5 1058.1,1012.0 C1062.0,1014.4 1066.1,1016.6 1070.3,1018.6 C1074.4,1020.6 1078.7,1022.4 1083.0,1024.0 C1087.3,1025.6 1091.7,1027.1 1096.2,1028.5 C1100.6,1029.8 1105.0,1031.1 1109.5,1032.1 C1114.0,1033.2 1118.5,1034.1 1123.1,1034.9 C1127.6,1035.8 1132.2,1036.4 1136.8,1037.1 C1141.3,1037.8 1145.9,1038.5 1150.5,1039.3 C1155.0,1040.1 1159.6,1041.0 1164.1,1041.8 C1168.6,1042.7 1173.2,1043.6 1177.7,1044.6 C1182.2,1045.6 1186.7,1046.7 1191.1,1047.9 C1195.6,1049.0 1200.1,1050.2 1204.5,1051.5 C1208.9,1052.9 1213.4,1054.3 1217.6,1055.9 C1221.9,1057.6 1226.2,1059.5 1230.3,1061.7 C1234.3,1063.9 1238.3,1066.3 1242.1,1068.9 C1245.9,1071.5 1249.6,1074.3 1253.2,1077.2 C1256.7,1080.1 1260.2,1083.2 1263.4,1086.5 C1266.6,1089.8 1271.0,1095.3 1272.5,1097.0"/>
<path d="M1090.0,1023.8 C1092.3,1023.0 1099.2,1020.8 1103.7,1019.1 C1108.2,1017.4 1112.8,1015.8 1117.1,1013.6 C1121.4,1011.4 1125.7,1009.1 1129.3,1006.0 C1133.0,1002.9 1137.2,996.8 1138.8,995.0"/>
<path d="M1125.0,1111.5 C1127.2,1112.4 1133.8,1115.1 1138.1,1117.1 C1142.5,1119.1 1146.7,1121.3 1150.9,1123.6 C1155.1,1125.9 1159.2,1128.3 1163.2,1130.9 C1167.2,1133.4 1171.3,1136.0 1174.9,1139.0 C1178.6,1142.0 1182.2,1145.2 1185.2,1148.9 C1188.2,1152.5 1190.8,1156.6 1193.0,1160.8 C1195.1,1165.1 1196.7,1169.6 1198.0,1174.2 C1199.2,1178.8 1200.0,1183.5 1200.4,1188.3 C1200.9,1193.0 1200.8,1197.8 1200.5,1202.5 C1200.1,1207.3 1199.3,1212.0 1198.3,1216.6 C1197.2,1221.3 1195.7,1225.8 1194.0,1230.3 C1192.4,1234.7 1190.4,1239.1 1188.4,1243.4 C1186.4,1247.7 1184.1,1251.9 1181.9,1256.1 C1179.6,1260.3 1177.3,1264.5 1174.8,1268.6 C1172.4,1272.7 1169.8,1276.7 1167.2,1280.7 C1164.6,1284.7 1160.5,1290.5 1159.2,1292.5"/>
<path d="M1200.3,1206.0 C1201.0,1208.1 1203.0,1214.6 1204.7,1218.8 C1206.4,1223.0 1208.2,1227.2 1210.4,1231.1 C1212.5,1235.1 1215.1,1238.9 1217.8,1242.5 C1220.5,1246.1 1223.4,1249.6 1226.6,1252.8 C1229.7,1256.1 1233.0,1259.2 1236.5,1262.0 C1240.0,1264.9 1243.6,1267.6 1247.5,1270.0 C1251.3,1272.4 1255.3,1274.6 1259.4,1276.5 C1263.4,1278.5 1267.6,1280.1 1271.9,1281.7 C1276.1,1283.2 1280.5,1284.5 1284.9,1285.6 C1289.2,1286.8 1293.7,1287.7 1298.1,1288.5 C1302.6,1289.3 1307.1,1289.9 1311.5,1290.5 C1316.0,1291.1 1322.8,1291.9 1325.0,1292.2"/>
<path d="M1385.0,1167.8 C1387.2,1168.8 1394.0,1171.4 1398.3,1173.7 C1402.6,1175.9 1407.0,1178.2 1410.7,1181.2 C1414.4,1184.2 1417.8,1187.9 1420.6,1191.8 C1423.3,1195.7 1425.7,1200.1 1427.4,1204.6 C1429.1,1209.1 1430.3,1213.9 1430.9,1218.7 C1431.4,1223.5 1431.3,1228.4 1430.8,1233.2 C1430.3,1238.0 1429.3,1242.8 1428.0,1247.5 C1426.8,1252.1 1425.0,1256.7 1423.1,1261.1 C1421.2,1265.6 1417.8,1272.0 1416.7,1274.2"/>
<path d="M1031.2,822.5 C1032.4,824.5 1035.8,830.7 1038.2,834.8 C1040.6,838.8 1043.0,842.9 1045.6,846.8 C1048.2,850.8 1050.9,854.6 1053.7,858.4 C1056.4,862.2 1059.3,866.0 1062.2,869.7 C1065.1,873.4 1068.1,877.0 1071.1,880.7 C1074.1,884.3 1077.1,887.9 1080.2,891.4 C1083.4,894.9 1086.5,898.4 1089.7,901.9 C1093.0,905.3 1096.3,908.7 1099.6,911.9 C1103.0,915.2 1106.4,918.5 1109.9,921.6 C1113.4,924.8 1117.0,927.8 1120.7,930.8 C1124.3,933.7 1128.1,936.5 1131.9,939.3 C1135.7,942.1 1139.7,944.7 1143.5,947.3 C1147.4,950.0 1151.3,952.7 1155.2,955.3 C1159.0,958.0 1162.9,960.7 1166.8,963.4 C1170.6,966.2 1174.4,968.9 1178.2,971.7 C1182.0,974.4 1185.9,977.2 1189.6,980.1 C1193.2,983.0 1196.9,986.1 1200.4,989.2 C1203.9,992.3 1207.1,995.7 1210.7,998.9 C1214.2,1002.0 1217.7,1005.2 1221.5,1007.9 C1225.3,1010.7 1229.4,1013.0 1233.5,1015.3 C1237.6,1017.6 1241.9,1019.7 1246.1,1021.7 C1250.3,1023.8 1254.6,1025.7 1258.9,1027.6 C1263.2,1029.6 1267.5,1031.4 1271.9,1033.3 C1276.2,1035.1 1280.6,1036.9 1285.0,1038.6 C1289.3,1040.3 1293.8,1041.9 1298.2,1043.4 C1302.7,1044.9 1307.2,1046.3 1311.7,1047.6 C1316.2,1048.9 1320.8,1050.2 1325.3,1051.4 C1329.9,1052.6 1334.4,1053.7 1339.0,1054.8 C1343.6,1055.9 1348.2,1056.9 1352.8,1057.9 C1357.4,1058.8 1362.0,1059.7 1366.7,1060.6 C1371.3,1061.4 1376.0,1062.2 1380.6,1062.9 C1385.3,1063.6 1389.9,1064.3 1394.6,1064.9 C1399.3,1065.4 1403.9,1065.9 1408.6,1066.4 C1413.3,1066.9 1418.0,1067.3 1422.7,1067.7 C1427.4,1068.1 1432.1,1068.5 1436.8,1068.8 C1441.5,1069.1 1446.2,1069.4 1450.9,1069.7 C1455.6,1070.0 1460.3,1070.2 1465.0,1070.4 C1469.7,1070.6 1474.4,1070.8 1479.1,1070.9 C1483.8,1071.1 1488.5,1071.2 1493.2,1071.2 C1497.9,1071.2 1502.6,1071.2 1507.3,1071.0 C1512.0,1070.8 1516.8,1070.5 1521.4,1070.0 C1526.1,1069.5 1530.8,1068.8 1535.4,1068.0 C1540.0,1067.1 1544.6,1066.0 1549.2,1064.8 C1553.7,1063.6 1558.2,1062.3 1562.7,1060.9 C1567.2,1059.5 1571.7,1058.0 1576.1,1056.3 C1580.5,1054.6 1584.8,1052.8 1589.1,1050.9 C1593.4,1049.0 1597.7,1046.9 1601.9,1044.8 C1606.1,1042.8 1610.4,1040.7 1614.5,1038.5 C1618.7,1036.3 1622.9,1034.1 1626.9,1031.6 C1630.8,1029.1 1634.7,1026.5 1638.5,1023.6 C1642.3,1020.8 1645.9,1017.8 1649.4,1014.7 C1653.0,1011.6 1656.4,1008.3 1659.6,1004.9 C1662.9,1001.5 1665.9,997.9 1668.9,994.3 C1671.9,990.7 1674.8,987.0 1677.7,983.2 C1680.6,979.5 1684.8,973.9 1686.2,972.0"/>
<path d="M1072.5,885.0 C1073.4,887.2 1076.3,893.8 1078.0,898.3 C1079.8,902.7 1081.4,907.2 1082.9,911.8 C1084.4,916.3 1085.6,921.0 1086.8,925.6 C1088.0,930.2 1088.9,934.9 1089.9,939.6 C1090.8,944.3 1092.1,951.4 1092.5,953.8"/>
<path d="M1122.5,932.5 C1124.8,932.8 1131.8,933.6 1136.4,934.1 C1141.1,934.5 1145.7,935.1 1150.4,935.4 C1155.0,935.8 1159.7,936.1 1164.3,936.1 C1169.0,936.1 1173.7,935.9 1178.3,935.5 C1183.0,935.1 1187.6,934.5 1192.2,933.7 C1196.8,932.9 1201.4,931.9 1205.9,930.9 C1210.5,929.8 1215.0,928.7 1219.5,927.3 C1223.9,926.0 1228.4,924.6 1232.8,923.0 C1237.2,921.4 1241.4,919.5 1245.7,917.7 C1250.0,915.8 1254.2,913.8 1258.6,912.1 C1262.9,910.4 1267.3,908.8 1271.8,907.4 C1276.2,906.1 1280.8,904.9 1285.3,903.9 C1289.9,902.8 1294.4,902.0 1299.0,901.1 C1303.6,900.3 1308.2,899.5 1312.9,898.9 C1317.5,898.3 1322.1,897.7 1326.8,897.3 C1331.4,896.9 1336.1,896.6 1340.7,896.5 C1345.4,896.3 1350.1,896.4 1354.8,896.4 C1359.4,896.4 1366.4,896.7 1368.8,896.8"/>
<path d="M1167.5,935.0 C1169.4,933.7 1175.2,929.9 1178.7,927.0 C1182.1,924.0 1185.7,920.9 1188.3,917.2 C1190.8,913.5 1193.2,909.2 1194.0,904.9 C1194.8,900.5 1193.4,893.5 1193.2,891.2"/>
<path d="M1192.5,982.5 C1194.5,983.7 1200.2,987.7 1204.2,990.0 C1208.3,992.2 1212.3,994.5 1216.7,996.1 C1221.0,997.6 1225.6,998.6 1230.2,999.2 C1234.7,999.8 1239.4,999.8 1244.0,999.7 C1248.7,999.6 1253.3,999.3 1257.9,998.9 C1262.5,998.6 1267.1,998.1 1271.7,997.5 C1276.3,996.9 1280.9,996.1 1285.5,995.3 C1290.0,994.5 1294.6,993.6 1299.1,992.6 C1303.6,991.5 1308.1,990.3 1312.5,988.9 C1316.9,987.5 1321.2,985.9 1325.5,984.1 C1329.8,982.4 1334.0,980.4 1338.2,978.4 C1342.4,976.5 1346.6,974.4 1350.7,972.3 C1354.8,970.2 1358.9,968.0 1362.9,965.7 C1366.9,963.4 1370.9,961.1 1374.9,958.7 C1378.8,956.3 1382.7,953.7 1386.7,951.3 C1390.6,948.8 1394.4,946.1 1398.5,944.0 C1402.6,942.0 1407.0,940.2 1411.4,938.9 C1415.8,937.7 1420.5,937.2 1425.1,936.4 C1429.6,935.6 1434.2,935.0 1438.8,934.3 C1443.4,933.5 1450.2,932.4 1452.5,932.0"/>
<path d="M1370.0,961.2 C1372.3,961.1 1379.2,960.6 1383.7,960.4 C1388.3,960.2 1392.9,959.9 1397.5,960.1 C1402.1,960.3 1406.7,960.8 1411.1,961.7 C1415.6,962.6 1420.0,964.0 1424.4,965.5 C1428.7,967.0 1433.0,968.7 1437.2,970.5 C1441.4,972.3 1445.5,974.4 1449.5,976.6 C1453.5,978.8 1459.3,982.6 1461.2,983.8"/>
<path d="M1330.0,1053.0 C1332.2,1053.9 1338.7,1056.3 1342.9,1058.2 C1347.1,1060.2 1351.2,1062.5 1355.2,1064.8 C1359.3,1067.0 1363.2,1069.5 1367.1,1072.0 C1371.1,1074.4 1375.0,1076.9 1378.9,1079.5 C1382.8,1082.0 1386.7,1084.5 1390.6,1087.1 C1394.4,1089.7 1398.3,1092.3 1402.1,1095.0 C1405.8,1097.8 1409.5,1100.6 1413.1,1103.6 C1416.6,1106.6 1419.9,1109.8 1423.2,1113.1 C1426.5,1116.4 1429.7,1119.8 1432.8,1123.3 C1435.9,1126.7 1439.0,1130.2 1441.9,1133.8 C1444.9,1137.4 1447.8,1141.0 1450.5,1144.8 C1453.3,1148.5 1456.0,1152.3 1458.6,1156.2 C1461.1,1160.0 1463.6,1164.0 1465.9,1168.0 C1468.2,1172.0 1470.4,1176.2 1472.3,1180.4 C1474.2,1184.6 1475.9,1189.0 1477.5,1193.3 C1479.1,1197.7 1480.5,1202.1 1481.7,1206.6 C1483.0,1211.1 1484.1,1215.6 1485.0,1220.2 C1486.0,1224.7 1486.8,1229.3 1487.5,1233.9 C1488.2,1238.5 1488.8,1243.1 1489.2,1247.7 C1489.6,1252.3 1489.8,1257.0 1489.9,1261.6 C1490.0,1266.3 1490.0,1270.9 1489.9,1275.6 C1489.8,1280.2 1489.3,1287.2 1489.2,1289.5"/>
<path d="M1520.0,1070.5 C1522.3,1070.7 1529.2,1071.5 1533.9,1072.0 C1538.5,1072.4 1543.1,1072.9 1547.7,1073.3 C1552.4,1073.7 1557.0,1073.9 1561.6,1074.3 C1566.3,1074.7 1570.9,1075.0 1575.5,1075.5 C1580.2,1076.0 1584.8,1076.6 1589.4,1077.3 C1594.0,1077.9 1598.6,1078.7 1603.1,1079.5 C1607.7,1080.4 1612.3,1081.3 1616.8,1082.3 C1621.3,1083.3 1625.9,1084.3 1630.4,1085.5 C1634.9,1086.6 1639.3,1087.9 1643.8,1089.3 C1648.2,1090.7 1652.6,1092.2 1656.9,1093.9 C1661.3,1095.5 1665.5,1097.4 1669.8,1099.3 C1674.0,1101.2 1678.2,1103.2 1682.3,1105.4 C1686.4,1107.5 1690.5,1109.8 1694.5,1112.2 C1698.4,1114.6 1702.3,1117.2 1706.0,1120.0 C1709.8,1122.8 1713.4,1125.7 1716.9,1128.8 C1720.4,1131.8 1723.7,1135.0 1726.9,1138.4 C1730.1,1141.8 1733.2,1145.3 1736.0,1149.0 C1738.8,1152.6 1741.4,1156.5 1743.8,1160.5 C1746.1,1164.5 1749.0,1170.9 1750.0,1173.0"/>
<path d="M1515.0,1070.5 C1517.4,1071.3 1524.6,1073.8 1529.4,1075.5 C1534.2,1077.2 1539.1,1078.9 1543.8,1080.7 C1548.5,1082.6 1553.3,1084.5 1557.8,1086.8 C1562.3,1089.1 1566.8,1091.7 1570.9,1094.6 C1575.1,1097.5 1580.8,1102.6 1582.8,1104.2"/>
<path d="M1660.0,1095.0 C1661.3,1096.8 1665.8,1102.0 1668.0,1105.9 C1670.1,1109.8 1671.7,1114.2 1672.9,1118.5 C1674.1,1122.9 1675.0,1127.4 1675.4,1131.9 C1675.8,1136.3 1675.8,1140.9 1675.4,1145.4 C1674.9,1149.9 1674.0,1154.4 1672.6,1158.7 C1671.3,1163.0 1669.4,1167.1 1667.3,1171.1 C1665.2,1175.1 1662.5,1178.8 1659.9,1182.5 C1657.3,1186.2 1653.1,1191.5 1651.7,1193.3"/>
<path d="M1035.0,816.2 C1037.2,817.1 1043.8,819.7 1048.3,821.4 C1052.7,823.1 1057.2,824.8 1061.7,826.3 C1066.2,827.8 1070.7,829.3 1075.3,830.6 C1079.9,831.8 1084.5,832.9 1089.1,833.9 C1093.8,834.9 1098.5,835.7 1103.2,836.4 C1107.9,837.1 1112.6,837.6 1117.3,838.0 C1122.1,838.4 1126.8,838.6 1131.6,838.7 C1136.3,838.8 1141.1,838.8 1145.8,838.7 C1150.6,838.5 1155.3,838.3 1160.1,837.9 C1164.8,837.5 1169.5,837.1 1174.2,836.4 C1179.0,835.8 1183.7,835.1 1188.3,834.2 C1193.0,833.3 1197.6,832.2 1202.3,831.1 C1206.9,830.1 1211.5,828.8 1216.1,827.8 C1220.7,826.8 1225.4,825.6 1230.1,824.9 C1234.7,824.1 1239.5,823.4 1244.2,823.2 C1248.9,823.0 1253.7,823.4 1258.4,823.9 C1263.1,824.4 1270.2,825.9 1272.5,826.2"/>
<path d="M1035.0,818.8 C1037.2,819.6 1043.6,822.1 1047.9,823.8 C1052.2,825.5 1056.5,827.2 1060.9,828.8 C1065.2,830.5 1069.5,832.1 1073.9,833.6 C1078.2,835.2 1082.6,836.6 1087.1,838.0 C1091.5,839.3 1096.0,840.5 1100.4,841.7 C1104.9,842.9 1109.4,843.9 1113.9,845.0 C1118.4,846.1 1122.9,847.1 1127.4,848.2 C1131.9,849.3 1136.4,850.4 1140.9,851.5 C1145.4,852.7 1149.8,853.9 1154.3,855.0 C1158.8,856.2 1163.3,857.4 1167.8,858.5 C1172.3,859.6 1176.8,860.6 1181.3,861.6 C1185.8,862.6 1190.3,863.5 1194.9,864.3 C1199.4,865.2 1204.0,866.0 1208.6,866.7 C1213.1,867.4 1217.7,868.1 1222.3,868.6 C1226.9,869.2 1231.5,869.6 1236.1,869.9 C1240.7,870.2 1245.4,870.4 1250.0,870.5 C1254.6,870.7 1259.2,870.6 1263.9,870.6 C1268.5,870.5 1273.1,870.4 1277.7,870.2 C1282.4,870.1 1287.0,869.9 1291.6,869.6 C1296.2,869.4 1300.8,869.1 1305.5,868.8 C1310.1,868.5 1314.7,868.1 1319.3,867.7 C1323.9,867.3 1328.5,866.9 1333.1,866.4 C1337.7,865.9 1342.3,865.5 1346.9,864.9 C1351.5,864.4 1356.1,863.9 1360.7,863.3 C1365.3,862.7 1369.9,862.1 1374.4,861.5 C1379.0,860.8 1383.6,860.2 1388.2,859.4 C1392.7,858.7 1397.3,857.9 1401.8,857.0 C1406.4,856.1 1410.9,855.2 1415.4,854.1 C1419.9,853.1 1424.4,851.9 1428.9,850.7 C1433.3,849.6 1437.8,848.3 1442.3,847.1 C1446.7,846.0 1451.2,844.7 1455.7,843.7 C1460.2,842.7 1464.8,841.8 1469.3,841.1 C1473.9,840.4 1478.5,839.8 1483.1,839.5 C1487.7,839.2 1492.4,839.2 1497.0,839.3 C1501.6,839.4 1506.3,839.8 1510.8,840.3 C1515.4,840.9 1520.0,841.7 1524.5,842.7 C1529.0,843.8 1533.5,845.1 1537.8,846.6 C1542.2,848.2 1546.4,850.0 1550.7,851.9 C1554.9,853.8 1559.0,855.9 1563.1,858.0 C1567.2,860.1 1571.3,862.3 1575.3,864.6 C1579.4,866.8 1585.5,870.1 1587.5,871.2"/>
<path d="M1380.0,861.2 C1382.4,861.1 1389.5,860.5 1394.2,860.3 C1398.9,860.0 1403.7,859.8 1408.4,859.9 C1413.1,860.1 1417.9,860.4 1422.6,861.2 C1427.3,861.9 1431.9,863.1 1436.5,864.3 C1441.0,865.5 1445.6,867.0 1450.1,868.4 C1454.6,869.9 1459.1,871.4 1463.5,873.1 C1468.0,874.7 1472.4,876.4 1476.8,878.2 C1481.2,880.0 1485.5,881.9 1489.8,883.9 C1494.1,885.9 1498.4,888.0 1502.6,890.1 C1506.8,892.3 1511.0,894.5 1515.2,896.8 C1519.4,899.1 1523.5,901.4 1527.6,903.7 C1531.8,906.0 1535.9,908.3 1540.0,910.7 C1544.2,913.0 1548.3,915.4 1552.3,917.9 C1556.4,920.3 1560.4,922.9 1564.3,925.5 C1568.2,928.2 1572.1,930.9 1576.0,933.7 C1579.8,936.4 1585.6,940.6 1587.5,942.0"/>
<path d="M1200.0,865.5 C1202.2,866.2 1208.9,868.0 1213.3,869.4 C1217.7,870.9 1222.2,872.2 1226.4,874.1 C1230.6,875.9 1234.8,878.1 1238.7,880.6 C1242.5,883.1 1246.0,886.2 1249.4,889.3 C1252.9,892.5 1256.0,895.9 1259.1,899.3 C1262.3,902.7 1265.3,906.2 1268.2,909.8 C1271.2,913.4 1274.0,917.1 1276.8,920.8 C1279.5,924.4 1282.3,928.2 1285.0,932.0 C1287.6,935.7 1290.3,939.6 1292.9,943.4 C1295.5,947.2 1298.1,951.0 1300.8,954.8 C1303.4,958.6 1305.9,962.5 1308.7,966.3 C1311.4,970.0 1314.2,973.7 1317.2,977.2 C1320.2,980.7 1323.4,984.1 1326.8,987.3 C1330.1,990.5 1333.6,993.6 1337.2,996.5 C1340.8,999.4 1344.5,1002.2 1348.3,1004.8 C1352.1,1007.4 1356.0,1009.9 1360.0,1012.2 C1364.1,1014.5 1368.2,1016.7 1372.4,1018.5 C1376.6,1020.4 1381.0,1022.1 1385.4,1023.5 C1389.8,1024.8 1394.3,1025.9 1398.9,1026.9 C1403.4,1027.9 1410.2,1029.1 1412.5,1029.5"/>
</g>
<!--/ROOTS-->
<!--MUSHROOM-->
<g id="mushroom">
<clipPath id="mclip"><path d="M995.3,578.8 C998.4,578.9 1007.0,578.4 1014.1,579.5 C1021.1,580.7 1029.7,582.5 1037.5,585.8 C1045.3,589.0 1053.1,593.5 1060.9,599.1 C1068.8,604.7 1077.3,612.6 1084.4,619.4 C1091.4,626.1 1097.9,633.4 1103.1,639.7 C1108.3,645.9 1112.2,651.1 1115.6,656.9 C1119.0,662.6 1121.7,668.9 1123.4,674.1 C1125.1,679.3 1125.9,683.7 1125.8,688.1 C1125.7,692.6 1124.3,696.7 1122.7,700.6 C1121.0,704.5 1118.9,708.6 1115.6,711.6 C1112.4,714.6 1108.3,717.1 1103.1,718.6 C1097.9,720.1 1087.5,720.2 1084.4,720.5 L1031.5,720.5 C1031.8,722.3 1032.3,726.0 1033.3,731.2 C1034.3,736.5 1036.3,745.1 1037.5,752.1 C1038.7,759.0 1039.8,766.3 1040.6,772.9 C1041.4,779.5 1042.2,786.5 1042.2,791.7 C1042.2,796.9 1041.8,800.3 1040.6,804.2 C1039.5,808.0 1038.0,811.5 1035.4,814.6 C1032.8,817.7 1029.3,820.7 1025.0,822.9 C1020.7,825.1 1014.6,826.6 1009.4,827.6 C1004.2,828.6 999.0,829.2 993.8,829.2 C988.5,829.2 983.0,828.6 978.1,827.6 C973.3,826.6 968.4,824.9 964.6,822.9 C960.8,820.9 957.7,818.6 955.2,815.6 C952.7,812.7 950.8,808.9 949.5,805.2 C948.2,801.6 947.6,798.3 947.4,793.8 C947.2,789.2 947.7,784.2 948.4,778.1 C949.2,772.0 950.8,764.2 952.1,757.3 C953.4,750.3 954.8,742.6 956.2,736.5 C957.7,730.3 959.8,723.2 960.5,720.5 L912.5,720.6 C909.4,720.5 899.2,721.1 893.8,720.2 C888.3,719.2 883.6,717.2 879.7,714.7 C875.8,712.2 872.7,709.0 870.3,705.3 C868.0,701.7 866.4,697.2 865.6,692.8 C864.8,688.4 864.6,684.2 865.6,678.8 C866.7,673.3 868.8,666.5 871.9,660.0 C875.0,653.5 878.9,646.7 884.4,639.7 C889.8,632.7 897.4,624.6 904.7,617.8 C912.0,611.0 920.3,604.3 928.1,599.1 C935.9,593.9 943.8,589.7 951.6,586.6 C959.4,583.4 967.7,581.6 975.0,580.3 C982.3,579.0 991.9,579.0 995.3,578.8 Z"/></clipPath>
<path d="M995.3,578.8 C998.4,578.9 1007.0,578.4 1014.1,579.5 C1021.1,580.7 1029.7,582.5 1037.5,585.8 C1045.3,589.0 1053.1,593.5 1060.9,599.1 C1068.8,604.7 1077.3,612.6 1084.4,619.4 C1091.4,626.1 1097.9,633.4 1103.1,639.7 C1108.3,645.9 1112.2,651.1 1115.6,656.9 C1119.0,662.6 1121.7,668.9 1123.4,674.1 C1125.1,679.3 1125.9,683.7 1125.8,688.1 C1125.7,692.6 1124.3,696.7 1122.7,700.6 C1121.0,704.5 1118.9,708.6 1115.6,711.6 C1112.4,714.6 1108.3,717.1 1103.1,718.6 C1097.9,720.1 1087.5,720.2 1084.4,720.5 L1031.5,720.5 C1031.8,722.3 1032.3,726.0 1033.3,731.2 C1034.3,736.5 1036.3,745.1 1037.5,752.1 C1038.7,759.0 1039.8,766.3 1040.6,772.9 C1041.4,779.5 1042.2,786.5 1042.2,791.7 C1042.2,796.9 1041.8,800.3 1040.6,804.2 C1039.5,808.0 1038.0,811.5 1035.4,814.6 C1032.8,817.7 1029.3,820.7 1025.0,822.9 C1020.7,825.1 1014.6,826.6 1009.4,827.6 C1004.2,828.6 999.0,829.2 993.8,829.2 C988.5,829.2 983.0,828.6 978.1,827.6 C973.3,826.6 968.4,824.9 964.6,822.9 C960.8,820.9 957.7,818.6 955.2,815.6 C952.7,812.7 950.8,808.9 949.5,805.2 C948.2,801.6 947.6,798.3 947.4,793.8 C947.2,789.2 947.7,784.2 948.4,778.1 C949.2,772.0 950.8,764.2 952.1,757.3 C953.4,750.3 954.8,742.6 956.2,736.5 C957.7,730.3 959.8,723.2 960.5,720.5 L912.5,720.6 C909.4,720.5 899.2,721.1 893.8,720.2 C888.3,719.2 883.6,717.2 879.7,714.7 C875.8,712.2 872.7,709.0 870.3,705.3 C868.0,701.7 866.4,697.2 865.6,692.8 C864.8,688.4 864.6,684.2 865.6,678.8 C866.7,673.3 868.8,666.5 871.9,660.0 C875.0,653.5 878.9,646.7 884.4,639.7 C889.8,632.7 897.4,624.6 904.7,617.8 C912.0,611.0 920.3,604.3 928.1,599.1 C935.9,593.9 943.8,589.7 951.6,586.6 C959.4,583.4 967.7,581.6 975.0,580.3 C982.3,579.0 991.9,579.0 995.3,578.8 Z" fill="#ffffff"/>
<g clip-path="url(#mclip)"><rect x="996.9" y="560" width="160" height="290" fill="#2f236b"/>
<path d="M996.9,659.2 C1001.0,659.5 1012.5,659.6 1021.9,660.8 C1031.2,662.0 1044.0,664.0 1053.1,666.2 C1062.2,668.5 1069.8,671.6 1076.6,674.1 C1083.3,676.5 1089.3,678.5 1093.8,681.1 C1098.2,683.7 1100.8,686.4 1103.1,689.7 C1105.5,692.9 1107.3,697.5 1107.8,700.6 C1108.3,703.8 1107.6,706.1 1106.2,708.4 C1104.9,710.8 1102.6,713.4 1100.0,714.7 C1097.4,716.0 1092.2,716.0 1090.6,716.2 L1024.2,716.2 C1023.6,713.6 1021.7,704.8 1020.3,700.6 C1018.9,696.5 1018.0,694.0 1015.6,691.2 C1013.3,688.5 1009.4,685.9 1006.2,684.2 C1003.1,682.5 998.4,681.6 996.9,681.1 Z" fill="#c4b3e1"/>
<g fill="none" stroke="#2f236b" stroke-width="3.8" stroke-linecap="round">
<path d="M1011.7,660.8 C1011.2,662.5 1009.9,667.3 1008.6,670.9 C1007.3,674.6 1004.7,680.7 1003.9,682.7"/>
<path d="M1050.0,665.5 C1046.6,667.3 1037.0,673.3 1029.7,676.4 C1022.4,679.5 1010.2,682.9 1006.2,684.2"/>
<path d="M1093.8,680.3 C1087.0,681.1 1066.4,683.8 1053.1,685.0 C1039.8,686.2 1020.6,687.3 1014.1,687.8"/>
<path d="M1106.2,706.9 C1098.7,705.7 1075.8,701.9 1060.9,699.5 C1046.1,697.2 1024.5,693.9 1017.2,692.8"/>
</g></g>
<g fill="none" stroke="#351f6f" stroke-width="6.6" stroke-linecap="round" stroke-linejoin="round" clip-path="url(#mclip)">
<path d="M982.3,825.0 C981.8,822.4 980.0,814.6 979.2,809.4 C978.3,804.2 977.3,799.0 977.1,793.8 C976.9,788.5 977.4,783.3 978.1,778.1 C978.8,772.9 980.2,768.6 981.2,762.5 C982.3,756.4 983.5,748.6 984.4,741.7 C985.2,734.7 986.1,725.1 986.5,720.8 C986.8,716.6 986.6,720.9 986.7,716.2 C986.8,711.6 987.3,700.6 987.2,692.8 C987.1,685.0 986.3,675.4 986.2,669.4 C986.2,663.4 986.4,660.3 986.7,656.9 C987.1,653.5 987.6,651.0 988.3,649.1 C988.9,647.1 990.2,645.8 990.6,645.2"/>
<path d="M890.9,705.3 C893.2,704.8 899.8,702.9 904.7,702.5 C909.6,702.1 915.1,702.9 920.3,703.0 C925.5,703.0 930.7,703.1 935.9,703.0 C941.1,702.8 947.1,702.2 951.6,702.2 C956.0,702.2 959.4,702.1 962.5,703.0 C965.6,703.9 968.4,705.4 970.3,707.7 C972.3,709.9 973.4,713.3 974.2,716.2 C975.0,719.2 974.8,723.1 975.0,725.6 C975.2,728.1 975.8,726.8 975.5,731.2 C975.3,735.7 974.1,745.1 973.4,752.1 C972.7,759.0 971.8,766.0 971.4,772.9 C970.9,779.9 970.6,787.7 970.8,793.8 C971.1,799.8 972.0,804.3 972.9,809.4 C973.8,814.4 975.5,821.5 976.0,824.0"/>
<path d="M900.3,683.4 C900.9,685.0 902.1,690.1 903.9,692.8 C905.7,695.5 908.2,698.2 910.9,699.8 C913.7,701.5 918.8,702.4 920.3,703.0"/>
<path d="M889.4,657.7 C890.1,658.8 891.2,662.9 893.8,664.7 C896.3,666.5 900.3,668.3 904.7,668.6 C909.1,668.9 915.1,667.4 920.3,666.2 C925.5,665.1 930.7,662.5 935.9,661.6 C941.1,660.7 947.1,660.3 951.6,660.8 C956.0,661.3 959.1,662.5 962.5,664.7 C965.9,666.9 969.0,670.2 971.9,674.1 C974.7,678.0 977.5,683.7 979.7,688.1 C981.9,692.6 984.2,698.5 985.2,700.6"/>
<path d="M929.7,685.0 C931.0,684.0 934.6,680.2 937.5,678.8 C940.4,677.3 943.5,676.1 946.9,676.4 C950.3,676.7 954.2,678.4 957.8,680.3 C961.5,682.3 964.8,685.0 968.8,688.1 C972.7,691.2 979.2,697.2 981.2,699.1"/>
<path d="M946.1,602.2 C945.4,603.8 942.6,608.4 942.2,611.6 C941.8,614.7 942.4,617.8 943.8,620.9 C945.1,624.1 947.4,627.2 950.0,630.3 C952.6,633.4 956.2,636.0 959.4,639.7 C962.5,643.3 965.6,647.8 968.8,652.2 C971.9,656.6 975.5,661.6 978.1,666.2 C980.7,670.9 982.9,675.9 984.4,680.3 C985.8,684.7 986.3,690.7 986.7,692.8"/>
<path d="M985.2,601.9 C983.5,603.2 978.0,607.3 975.0,610.0 C972.0,612.7 968.9,614.9 967.2,617.8 C965.5,620.7 965.0,623.8 964.8,627.2 C964.7,630.6 965.2,634.2 966.4,638.1 C967.6,642.0 969.9,646.2 971.9,650.6 C973.8,655.1 977.1,662.3 978.1,664.7"/>
<path d="M918.8,638.1 C921.1,637.5 928.1,635.0 932.8,634.2 C937.5,633.4 942.7,632.9 946.9,633.4 C951.0,634.0 956.0,636.7 957.8,637.3"/>
</g>
<path d="M995.3,578.8 C998.4,578.9 1007.0,578.4 1014.1,579.5 C1021.1,580.7 1029.7,582.5 1037.5,585.8 C1045.3,589.0 1053.1,593.5 1060.9,599.1 C1068.8,604.7 1077.3,612.6 1084.4,619.4 C1091.4,626.1 1097.9,633.4 1103.1,639.7 C1108.3,645.9 1112.2,651.1 1115.6,656.9 C1119.0,662.6 1121.7,668.9 1123.4,674.1 C1125.1,679.3 1125.9,683.7 1125.8,688.1 C1125.7,692.6 1124.3,696.7 1122.7,700.6 C1121.0,704.5 1118.9,708.6 1115.6,711.6 C1112.4,714.6 1108.3,717.1 1103.1,718.6 C1097.9,720.1 1087.5,720.2 1084.4,720.5 L1031.5,720.5 C1031.8,722.3 1032.3,726.0 1033.3,731.2 C1034.3,736.5 1036.3,745.1 1037.5,752.1 C1038.7,759.0 1039.8,766.3 1040.6,772.9 C1041.4,779.5 1042.2,786.5 1042.2,791.7 C1042.2,796.9 1041.8,800.3 1040.6,804.2 C1039.5,808.0 1038.0,811.5 1035.4,814.6 C1032.8,817.7 1029.3,820.7 1025.0,822.9 C1020.7,825.1 1014.6,826.6 1009.4,827.6 C1004.2,828.6 999.0,829.2 993.8,829.2 C988.5,829.2 983.0,828.6 978.1,827.6 C973.3,826.6 968.4,824.9 964.6,822.9 C960.8,820.9 957.7,818.6 955.2,815.6 C952.7,812.7 950.8,808.9 949.5,805.2 C948.2,801.6 947.6,798.3 947.4,793.8 C947.2,789.2 947.7,784.2 948.4,778.1 C949.2,772.0 950.8,764.2 952.1,757.3 C953.4,750.3 954.8,742.6 956.2,736.5 C957.7,730.3 959.8,723.2 960.5,720.5 L912.5,720.6 C909.4,720.5 899.2,721.1 893.8,720.2 C888.3,719.2 883.6,717.2 879.7,714.7 C875.8,712.2 872.7,709.0 870.3,705.3 C868.0,701.7 866.4,697.2 865.6,692.8 C864.8,688.4 864.6,684.2 865.6,678.8 C866.7,673.3 868.8,666.5 871.9,660.0 C875.0,653.5 878.9,646.7 884.4,639.7 C889.8,632.7 897.4,624.6 904.7,617.8 C912.0,611.0 920.3,604.3 928.1,599.1 C935.9,593.9 943.8,589.7 951.6,586.6 C959.4,583.4 967.7,581.6 975.0,580.3 C982.3,579.0 991.9,579.0 995.3,578.8 Z" fill="none" stroke="#351f6f" stroke-width="7.8" stroke-linejoin="miter"/>
</g>
<!--/MUSHROOM-->
<!--LEADERS-->
<g id="leaders" fill="none" stroke="#22064c" stroke-width="4.2" stroke-linecap="round" stroke-linejoin="round">
<path d="M277,706 V910 H314"/>
<circle cx="326" cy="910" r="10.8"/>
<path d="M695.5,609 V833"/>
<circle cx="695.5" cy="845" r="10.8"/>
<path d="M1282,609 V787"/>
<circle cx="1282" cy="799" r="10.8"/>
<path d="M1632,706 V910 H1596"/>
<circle cx="1584" cy="910" r="10.8"/>
</g>
<!--/LEADERS-->
<!--TEXT-->
<g id="text">
<text transform="translate(748.25,206.00) scale(0.8997,1)" font-size="70" font-weight="400" fill="#3d2c5e" stroke="#3d2c5e" stroke-width="2.0" stroke-linejoin="round">POWERED</text>
<text transform="translate(1093.96,206.00) scale(0.8284,1)" font-size="70" font-weight="400" fill="#3d2c5e" stroke="#3d2c5e" stroke-width="2.0" stroke-linejoin="round">BY</text>
<text transform="translate(162.45,344.30) scale(1.0788,1)" font-size="127" font-weight="700" fill="#3d2c5e" stroke="#3d2c5e" stroke-width="2.6" stroke-linejoin="miter">MUSHROOM</text>
<text transform="translate(1020.94,344.30) scale(1.0092,1)" font-size="125" font-weight="700" fill="#3d2c5e" stroke="#3d2c5e" stroke-width="4.0" stroke-linejoin="miter">MYCELIUM</text>
<text transform="translate(1688.10,315.00) scale(0.7792,1)" font-size="93" font-weight="700" fill="#3d2c5e" stroke="#3d2c5e" stroke-width="1.0" stroke-linejoin="miter">™</text>
<text transform="translate(81.01,614.00) scale(0.9974,1)" font-size="55" font-weight="400" fill="#22064c" stroke="#22064c" stroke-width="1.1" stroke-linejoin="round">Immunologically</text>
<text transform="translate(138.03,682.00) scale(0.9846,1)" font-size="55" font-weight="400" fill="#22064c" stroke="#22064c" stroke-width="1.1" stroke-linejoin="round">Supportive</text>
<text transform="translate(401.00,661.00) scale(0.9583,1)" font-size="32" font-weight="400" fill="#22064c" stroke="#22064c" stroke-width="0.5" stroke-linejoin="round">*</text>
<text transform="translate(612.05,517.00) scale(0.9881,1)" font-size="55" font-weight="400" fill="#22064c" stroke="#22064c" stroke-width="1.1" stroke-linejoin="round">Unique</text>
<text transform="translate(557.08,584.00) scale(0.9625,1)" font-size="55" font-weight="400" fill="#22064c" stroke="#22064c" stroke-width="1.1" stroke-linejoin="round">Compounds</text>
<text transform="translate(1167.00,517.00) scale(1.0023,1)" font-size="55" font-weight="400" fill="#22064c" stroke="#22064c" stroke-width="1.1" stroke-linejoin="round">Clinically</text>
<text transform="translate(1185.57,584.00) scale(0.9643,1)" font-size="55" font-weight="400" fill="#22064c" stroke="#22064c" stroke-width="1.1" stroke-linejoin="round">Studied</text>
<text transform="translate(1472.48,614.00) scale(1.0089,1)" font-size="55" font-weight="400" fill="#22064c" stroke="#22064c" stroke-width="1.1" stroke-linejoin="round">Cutting</text>
<text transform="translate(1657.18,614.00) scale(0.9549,1)" font-size="55" font-weight="400" fill="#22064c" stroke="#22064c" stroke-width="1.1" stroke-linejoin="round">Edge</text>
<text transform="translate(1518.34,682.00) scale(0.9145,1)" font-size="55" font-weight="400" fill="#22064c" stroke="#22064c" stroke-width="1.1" stroke-linejoin="round">Research</text>
<text transform="translate(320.84,1523.20) scale(0.8588,1)" font-size="58" font-weight="400" fill="#2d1562" stroke="#2d1562" stroke-width="1.2" stroke-linejoin="round">The</text>
<text transform="translate(421.91,1523.20) scale(1.0309,1)" font-size="58" font-weight="400" fill="#2d1562" stroke="#2d1562" stroke-width="1.2" stroke-linejoin="round">building</text>
<text transform="translate(642.91,1523.20) scale(0.9638,1)" font-size="58" font-weight="400" fill="#2d1562" stroke="#2d1562" stroke-width="1.2" stroke-linejoin="round">blocks</text>
<text transform="translate(817.93,1523.20) scale(1.0372,1)" font-size="58" font-weight="400" fill="#2d1562" stroke="#2d1562" stroke-width="1.2" stroke-linejoin="round">of</text>
<text transform="translate(884.60,1523.20) scale(0.9329,1)" font-size="58" font-weight="400" fill="#2d1562" stroke="#2d1562" stroke-width="1.2" stroke-linejoin="round">the</text>
<text transform="translate(975.44,1523.20) scale(0.9532,1)" font-size="58" font-weight="400" fill="#2d1562" stroke="#2d1562" stroke-width="1.2" stroke-linejoin="round">mushroom</text>
<text transform="translate(1254.60,1523.20) scale(0.9876,1)" font-size="58" font-weight="400" fill="#2d1562" stroke="#2d1562" stroke-width="1.2" stroke-linejoin="round">fruit</text>
<text transform="translate(1365.78,1523.20) scale(1.0750,1)" font-size="58" font-weight="400" fill="#2d1562" stroke="#2d1562" stroke-width="1.2" stroke-linejoin="round">body,</text>
<text transform="translate(1524.31,1523.20) scale(1.0622,1)" font-size="58" font-weight="700" fill="#2d1562" stroke="#2d1562" stroke-width="2.6" stroke-linejoin="round">mycelium</text>
<text transform="translate(320.95,1598.40) scale(0.9731,1)" font-size="58" font-weight="400" fill="#2d1562" stroke="#2d1562" stroke-width="1.2" stroke-linejoin="round">contains</text>
<text transform="translate(544.94,1598.40) scale(0.9864,1)" font-size="58" font-weight="400" fill="#2d1562" stroke="#2d1562" stroke-width="1.2" stroke-linejoin="round">unique</text>
<text transform="translate(732.23,1598.40) scale(1.0703,1)" font-size="58" font-weight="400" fill="#2d1562" stroke="#2d1562" stroke-width="1.2" stroke-linejoin="round">&amp;</text>
<text transform="translate(787.80,1598.40) scale(1.0008,1)" font-size="58" font-weight="400" fill="#2d1562" stroke="#2d1562" stroke-width="1.2" stroke-linejoin="round">beneficial</text>
<text transform="translate(1047.25,1598.40) scale(0.9753,1)" font-size="58" font-weight="400" fill="#2d1562" stroke="#2d1562" stroke-width="1.2" stroke-linejoin="round">compounds</text>
<text transform="translate(1355.40,1598.40) scale(0.9794,1)" font-size="58" font-weight="400" fill="#2d1562" stroke="#2d1562" stroke-width="1.2" stroke-linejoin="round">that</text>
<text transform="translate(1466.01,1598.40) scale(0.9935,1)" font-size="58" font-weight="400" fill="#2d1562" stroke="#2d1562" stroke-width="1.2" stroke-linejoin="round">support</text>
<text transform="translate(1676.41,1598.40) scale(1.0068,1)" font-size="58" font-weight="400" fill="#2d1562" stroke="#2d1562" stroke-width="1.2" stroke-linejoin="round">well-</text>
<text transform="translate(321.14,1673.30) scale(1.0187,1)" font-size="58" font-weight="400" fill="#2d1562" stroke="#2d1562" stroke-width="1.2" stroke-linejoin="round">being.</text>
<text transform="translate(496.12,1673.30) scale(0.9710,1)" font-size="58" font-weight="400" fill="#2d1562" stroke="#2d1562" stroke-width="1.2" stroke-linejoin="round">Discover</text>
<text transform="translate(731.25,1673.30) scale(0.9383,1)" font-size="58" font-weight="400" fill="#2d1562" stroke="#2d1562" stroke-width="1.2" stroke-linejoin="round">there’s</text>
<text transform="translate(908.78,1673.30) scale(0.9740,1)" font-size="58" font-weight="400" fill="#2d1562" stroke="#2d1562" stroke-width="1.2" stroke-linejoin="round">more</text>
<text transform="translate(1052.50,1673.30) scale(0.9957,1)" font-size="58" font-weight="400" fill="#2d1562" stroke="#2d1562" stroke-width="1.2" stroke-linejoin="round">to</text>
<text transform="translate(1116.15,1673.30) scale(0.9486,1)" font-size="58" font-weight="400" fill="#2d1562" stroke="#2d1562" stroke-width="1.2" stroke-linejoin="round">mushrooms!</text>
<text transform="translate(1421.00,1650.50) scale(1.0833,1)" font-size="32" font-weight="400" fill="#2d1562" stroke="#2d1562" stroke-width="0.5" stroke-linejoin="round">*</text>
<text transform="translate(81.80,1871.50) scale(0.6266,1)" font-size="38" font-weight="400" fill="#2d1562" stroke="#2d1562" stroke-width="0.8" stroke-linejoin="round">*These statements have not been evaluated by the Food and Drug Administration. These products are not intended to diagnose, treat, cure or prevent any disease.</text>
</g>
<!--/TEXT-->
<!--ICON-->
<g id="icon">
<circle cx="224.9" cy="1557" r="55.8" fill="none" stroke="#2e1461" stroke-width="11.6"/>
<g fill="none" stroke="#2e1461" stroke-width="7.2">
<path d="M227.8,1535 L241.8,1566.5 L207,1571.1" stroke-width="6.8"/>
</g>
<circle cx="227.8" cy="1535" r="11.8" fill="#fbf6f1" stroke="#2e1461" stroke-width="7.2"/>
<circle cx="207" cy="1571.1" r="11.8" fill="#fbf6f1" stroke="#2e1461" stroke-width="7.2"/>
<circle cx="241.8" cy="1566.5" r="11.8" fill="#fbf6f1" stroke="#2e1461" stroke-width="7.2"/>
<g transform="translate(165.6,1645.4) rotate(32.3)">
<rect x="-15.6" y="-37.8" width="31.2" height="75.6" rx="6.5" fill="#2e1461"/>
<rect x="-5.8" y="-50" width="11.6" height="16" fill="#2e1461"/>
<rect x="-4.6" y="-27.5" width="9.2" height="7.6" fill="#fbf6f1"/>
</g>
</g>
<!--/ICON-->
</svg>
</body>
</html>
